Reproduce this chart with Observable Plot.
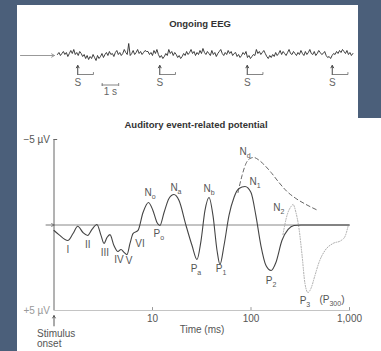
<!DOCTYPE html>
<html><head><meta charset="utf-8">
<script src="https://cdn.jsdelivr.net/npm/d3@7"></script>
<script src="https://cdn.jsdelivr.net/npm/@observablehq/plot@0.6"></script>
<style>
html,body{margin:0;padding:0;background:#4b5f7a;width:381px;height:351px;overflow:hidden;}
#panel{position:absolute;left:17px;top:5px;width:341px;height:346px;background:#fff;}
#panel2{position:absolute;left:357px;top:118px;width:24px;height:233px;background:#fff;}
.title{position:absolute;font:bold 9.5px "Liberation Sans",Arial,sans-serif;color:#333;white-space:nowrap;transform:translateX(-50%);}
#eeg{position:absolute;left:0;top:0;}
#erp{position:absolute;left:0;top:105px;}
svg{overflow:visible;}
</style></head><body>
<div id="panel2"></div>
<div id="panel">
  <div id="eeg"></div>
  <div id="erp"></div>
  <div class="title" style="left:183px;top:13px">Ongoing EEG</div>
  <div class="title" style="left:179px;top:114px">Auditory event-related potential</div>
</div>
<script>
// ---------- Ongoing EEG (time in s, amplitude in arbitrary units, negative up) ----------
const eegDuration = 17.9;
const eegValues = [
  -1,-3,0,-2,-4,-1,-3,1,-2,-5,-2,-6,-1,-3,0,-4,-2,1,-1,3,
  0,4,1,3,-1,2,5,0,3,1,-2,2,-1,-3,0,-4,-1,-2,1,-3,
  -5,-1,-3,0,-2,-6,-3,-1,-12,0,-2,-5,-1,-3,-6,-2,-4,-1,-3,-5,
  -4,-4,-1,-3,0,-5,-2,-6,-1,2,0,3,1,-2,0,-6,-2,-4,0,-3,
  -1,2,0,3,1,-2,0,-4,-1,-3,-6,-2,-4,0,-3,-1,-5,-2,-7,-3,
  -1,-4,-2,0,-5,-1,-3,1,-2,-4,-6,-2,0,-3,-1,-5,-2,-4,0,-2,
  -3,1,-1,2,0,-3,-1,-4,2,0,3,1,-1,0,-6,-2,-4,-1,-3,-5,
  -2,1,3,0,2,-1,1,-3,0,-2,-5,-1,-4,-2,0,-3,-6,-2,-1,-4,
  -2,0,-3,-1,-5,-2,0,-4,-1,-3,-6,-2,-1,-4,0,-2,-5,-3,-1,-2,
  -4,0,2,1,3,0,-2,-1,-4,-2,-5,-3,-6,-4,-2,-5,-1,-3,0,-2
];
const stimulusTimes = [1.23, 6.2, 11.5, 16.65];
const stimulusWindow = 0.95;   // s, bracket after each stimulus
const scaleBar = {t1: 2.71, t2: 3.71, label: "1 s"};
const inputArrow = {t1: -2.24, t2: -0.18};

// ---------- Auditory ERP (time in ms, amplitude in µV, negative up) ----------
const erpSolid = [
  [1.0,0.32],[1.12,0.56],[1.38,0.91],[1.56,0.50],[1.74,0.07],[1.97,0.44],[2.20,0.61],
  [2.43,0.26],[2.73,-0.03],[3.0,0.61],[3.22,1.08],[3.45,0.73],[3.70,0.56],[4.06,1.20],
  [4.46,1.55],[4.79,1.43],[5.14,1.60],[5.51,1.73],[5.91,1.08],[6.34,0.50],[7.13,0.32],
  [8.01,-0.73],[9.1,-1.32],[10.1,-0.85],[11.1,-0.15],[11.9,0.03],[13.1,-0.73],[14.7,-1.55],
  [16.5,-1.78],[18.6,-1.43],[21.9,0.03],[25.2,1.2],[28.3,2.02],[31.1,0.91],[34.1,-0.85],
  [37.5,-1.61],[41.1,-0.56],[45.2,1.49],[48.4,2.31],[53.2,1.2],[59.8,-0.56],[67.2,-1.61],
  [75.5,-2.13],[86.9,-2.25],[100,-1.9],[112,-0.56],[126,1.2],[142,2.37],[160,2.66],
  [179,2.19],[206,0.91],[238,0.26],[273,0.03],[322,0],[1000,0]
];
const erpNd = [
  [73.8,-1.90],[81.1,-2.89],[89,-3.60],[97.7,-3.89],[107,-3.95],[118,-3.83],[135,-3.54],
  [160,-3.07],[192,-2.49],[232,-1.96],[286,-1.55],[362,-1.20],[479,-0.85]
];
const erpP3 = [
  [211,0.56],[232,-0.56],[255,-1.08],[267,-1.20],[286,-0.73],[307,0.20],[330,1.78],
  [353,3.42],[379,3.95],[406,3.71],[446,2.95],[490,2.19],[564,1.49],[680,1.08],
  [820,0.91],[900,0.67],[966,0.09]
];
const peakLabels = [
  {t:1.38, v:1.43, main:"I"},
  {t:2.20, v:1.14, main:"II"},
  {t:3.29, v:1.61, main:"III"},
  {t:4.57, v:2.02, main:"IV"},
  {t:5.77, v:2.08, main:"V"},
  {t:7.47, v:1.08, main:"VI"},
  {t:9.43, v:-1.90, main:"N", sub:"o"},
  {t:11.6, v:0.50, main:"P", sub:"o"},
  {t:17.3, v:-2.19, main:"N", sub:"a"},
  {t:27.6, v:2.54, main:"P", sub:"a"},
  {t:37.5, v:-2.13, main:"N", sub:"b"},
  {t:49.6, v:2.54, main:"P", sub:"1"},
  {t:110, v:-2.54, main:"N", sub:"1"},
  {t:86.9, v:-4.30, main:"N", sub:"d"},
  {t:192, v:-1.02, main:"N", sub:"2"},
  {t:160, v:3.25, main:"P", sub:"2"},
  {t:353, v:4.42, main:"P", sub:"3"},
  {t:664, v:4.38, main:"(P", sub:"300", post:")"}
];
const xTicks = [10, 100, 1000];
const yLabels = [{v:-5, text:"\u22125 \u00b5V", color:"#555"}, {v:5, text:"+5 \u00b5V", color:"#999"}];
const timeLabel = {t:31.8, v:6.1, text:"Time (ms)"};
const onsetLabel = {t:1, v:6.64, text:"Stimulus\nonset"};

const font = "'Liberation Sans', Arial, Helvetica, sans-serif";
const baseStyle = {fontFamily: font, fontSize: "10px", background: "transparent", color: "#555", overflow: "visible"};

// ---------- EEG plot ----------
const eegData = eegValues.map((v, i) => ({t: i * eegDuration / (eegValues.length - 1), v}));
const brackets = stimulusTimes.flatMap((s, k) => [
  {t: s, v: 19, k}, {t: s + stimulusWindow, v: 19, k}, {t: s + stimulusWindow, v: 17, k}
]);
const eeg = Plot.plot({
  width: 341, height: 105, margin: 0,
  style: baseStyle,
  x: {domain: [-2.42, 18.24], axis: null},
  y: {domain: [55, -50], axis: null},
  marks: [
    Plot.arrow([inputArrow], {x1: "t1", x2: "t2", y1: 0, y2: 0, stroke: "#999", strokeWidth: 1, headLength: 5}),
    Plot.line(eegData, {x: "t", y: "v", stroke: "#2a2a2a", strokeWidth: 0.9}),
    Plot.arrow(stimulusTimes, {x1: d => d, x2: d => d, y1: 19, y2: 10, stroke: "#444", strokeWidth: 1, headLength: 4}),
    Plot.line(brackets, {x: "t", y: "v", z: "k", stroke: "#666", strokeWidth: 0.8}),
    Plot.text(stimulusTimes, {x: d => d, y: 27, text: () => "S", fill: "#666", fontSize: 10}),
    Plot.ruleY([scaleBar], {x1: "t1", x2: "t2", y: 29.5, stroke: "#666", strokeWidth: 0.8}),
    Plot.ruleX([scaleBar.t1, scaleBar.t2], {x: d => d, y1: 28, y2: 31, stroke: "#666", strokeWidth: 0.8}),
    Plot.text([scaleBar], {x: d => (d.t1 + d.t2) / 2, y: 36.5, text: "label", fill: "#666", fontSize: 10})
  ]
});
document.getElementById("eeg").append(eeg);

// ---------- ERP plot ----------
const toObj = arr => arr.map(([t, v]) => ({t, v}));
const erp = Plot.plot({
  width: 341, height: 241,
  marginLeft: 36.5, marginRight: 9, marginTop: 29, marginBottom: 41,
  style: baseStyle,
  x: {type: "log", domain: [1, 1000], axis: null},
  y: {domain: [5, -5], axis: null},
  marks: [
    Plot.ruleY([0], {x1: 1, x2: 1000, stroke: "#888", strokeWidth: 1}),
    Plot.arrow([0], {x1: 0.83, x2: 1, y1: 0, y2: 0, stroke: "#777", strokeWidth: 1, headLength: 5}),
    Plot.ruleY([5], {x1: 1, x2: 1030, stroke: "#c4c4c4", strokeWidth: 1}),
    Plot.ruleX(xTicks, {x: d => d, y1: 5, y2: 4.83, stroke: "#999"}),
    Plot.text(xTicks, {x: d => d, y: 5, dy: 8, text: d => d3.format(",")(d), fill: "#555", fontSize: 10}),
    Plot.ruleX([1], {y1: -5, y2: 5, stroke: "#666", strokeWidth: 1}),
    Plot.ruleY([-5], {x1: 1, x2: 1.09, stroke: "#666", strokeWidth: 1}),
    Plot.text(yLabels, {x: 1, y: "v", dx: -4, text: "text", fill: "color", textAnchor: "end", fontSize: 10}),
    Plot.arrow([0], {x1: 1, x2: 1, y1: 5.9, y2: 5.3, stroke: "#555", strokeWidth: 1, headLength: 4}),
    Plot.text([onsetLabel], {x: "t", y: "v", dx: -17, text: "text", textAnchor: "start", lineHeight: 1.0, fill: "#555", fontSize: 10}),
    Plot.text([timeLabel], {x: "t", y: "v", text: "text", fill: "#555", fontSize: 10}),
    Plot.line(toObj(erpP3), {x: "t", y: "v", stroke: "#aaa", strokeWidth: 1, strokeDasharray: "1,1.6", curve: "monotone-x"}),
    Plot.line(toObj(erpNd), {x: "t", y: "v", stroke: "#555", strokeWidth: 0.9, strokeDasharray: "4,3", curve: "monotone-x"}),
    Plot.line(toObj(erpSolid), {x: "t", y: "v", stroke: "#444", strokeWidth: 1.1, curve: "monotone-x"}),
    Plot.text(peakLabels, {x: "t", y: "v", text: d => d.main + (d.sub || "") + (d.post || ""), fill: "#555", fontSize: 10})
  ]
});
document.getElementById("erp").append(erp);

// subscripts for peak labels (last text mark of the ERP plot)
const textGroups = erp.querySelectorAll('g[aria-label="text"]');
const peakGroup = textGroups[textGroups.length - 1];
d3.select(peakGroup).selectAll("text").each(function(_, k) {
  const d = peakLabels[k];
  if (!d || !d.sub) return;
  const el = d3.select(this);
  el.text(null);
  el.append("tspan").text(d.main);
  el.append("tspan").attr("dy", "3").attr("font-size", "7px").text(d.sub);
  if (d.post) el.append("tspan").attr("dy", "-3").text(d.post);
});
</script>
</body></html>
